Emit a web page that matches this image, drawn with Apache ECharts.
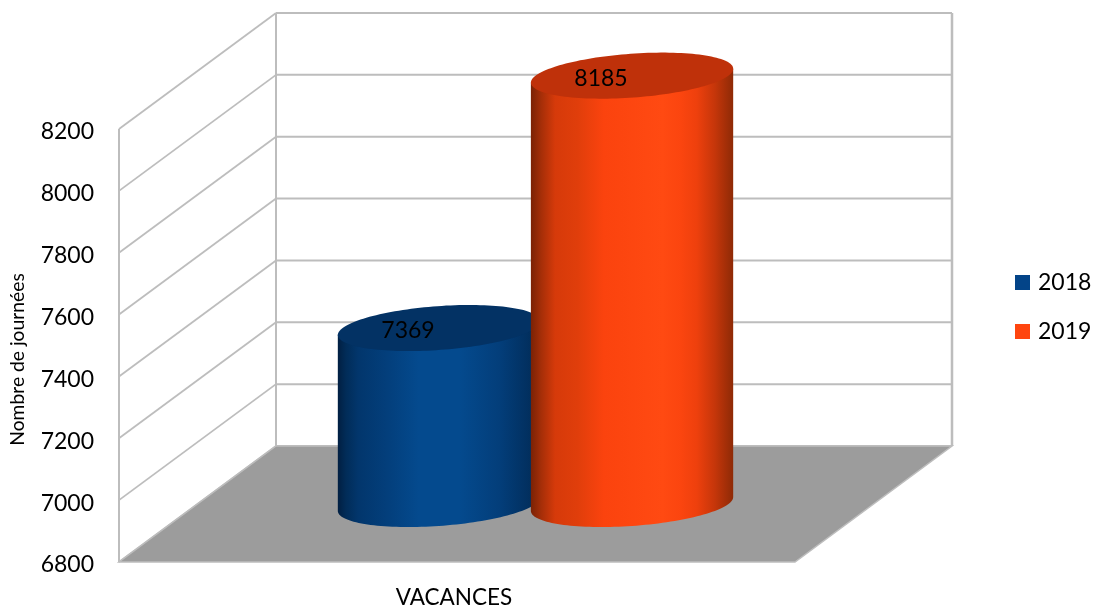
<!DOCTYPE html>
<html><head><meta charset="utf-8">
<style>html,body{margin:0;padding:0;background:#fff}#c{width:1094px;height:605px}</style>
<script src="https://cdn.jsdelivr.net/npm/echarts@6/dist/echarts.min.js"></script>
</head><body><div id="c"></div>
<script>
const categories = ['VACANCES'];
const seriesNames = ['2018', '2019'];
const values2018 = [7369];
const values2019 = [8185];
const yTicks = [6800, 7000, 7200, 7400, 7600, 7800, 8000, 8200];

const FONT = 'Lato';
const DEPTH_X = 157, DEPTH_Y = -116;      // oblique depth of the 3D box, px
const GRID = {left: 119, top: 129, width: 676, height: 433};
const LINE = '#bdbdbd', FLOOR = '#9c9c9c';
const BAR_OFFSET = 0.1428, BAR_RADIUS = 0.15, ELL_B = 21.9, TILT = 4.13 * Math.PI / 180;

const chart = echarts.init(document.getElementById('c'));

function renderWalls(params, api) {
  const v = api.value(1);
  const p = api.coord([0, v]);
  const band = api.size([1, 0])[0];
  const x0 = p[0] - band / 2, y = p[1];
  const children = [];
  const line = (x1, y1, x2, y2, w) => ({type: 'line', shape: {x1, y1, x2, y2},
    style: {stroke: LINE, lineWidth: w, fill: null}, silent: true});
  children.push(line(x0, y, x0 + DEPTH_X, y + DEPTH_Y, 1.8));
  children.push(line(x0 + DEPTH_X, y + DEPTH_Y, x0 + band + DEPTH_X, y + DEPTH_Y, 2));
  if (params.dataIndex === 0) {
    const top = api.coord([0, yTicks[yTicks.length - 1]])[1];
    children.push(line(x0, y, x0, top, 2));
    children.push(line(x0 + DEPTH_X, y + DEPTH_Y, x0 + DEPTH_X, top + DEPTH_Y, 2));
    children.push(line(x0 + band + DEPTH_X, y + DEPTH_Y, x0 + band + DEPTH_X, top + DEPTH_Y, 2.5));
    children.push({type: 'polygon', shape: {points: [
      [x0, y], [x0 + band, y], [x0 + band + DEPTH_X, y + DEPTH_Y], [x0 + DEPTH_X, y + DEPTH_Y]
    ]}, style: {fill: FLOOR, stroke: '#bdbdbd', lineWidth: 1.5}, silent: true});
  }
  return {type: 'group', children};
}

function ellipsePoint(cx, cy, a, b, t) {
  const c = Math.cos(TILT), s = Math.sin(TILT);
  return [cx + a * Math.cos(t) * c + b * Math.sin(t) * s,
          cy - a * Math.cos(t) * s + b * Math.sin(t) * c];
}

function makeCylinder(sign, stops, topColor) {
  return function (params, api) {
    const cat = api.value(0), v = api.value(1);
    const band = api.size([1, 0])[0];
    const base = api.coord([cat, yTicks[0]]);
    const head = api.coord([cat, v]);
    const cx = base[0] + DEPTH_X / 2 + sign * BAR_OFFSET * band;
    const a = BAR_RADIUS * band;
    const yTop = head[1] + DEPTH_Y / 2, yBot = base[1] + DEPTH_Y / 2;
    const t0 = Math.atan2(ELL_B * Math.sin(TILT), a * Math.cos(TILT));
    const N = 72;
    const side = [ellipsePoint(cx, yTop, a, ELL_B, t0 + Math.PI), ellipsePoint(cx, yTop, a, ELL_B, t0)];
    for (let i = 0; i <= N; i++) side.push(ellipsePoint(cx, yBot, a, ELL_B, t0 + Math.PI * i / N));
    const cap = [];
    for (let i = 0; i < N * 2; i++) cap.push(ellipsePoint(cx, yTop, a, ELL_B, Math.PI * i / N));
    return {type: 'group', children: [
      {type: 'polygon', shape: {points: side}, style: {
        fill: {type: 'linear', x: 0, y: 0, x2: 1, y2: 0, colorStops: stops}}},
      {type: 'polygon', shape: {points: cap}, style: {fill: topColor}},
      {type: 'text', style: {text: String(v), x: cx - 31, y: yTop + 3, align: 'center', verticalAlign: 'middle',
        fill: '#000', font: '23px ' + FONT}}
    ]};
  };
}

const blueStops = [
  {offset: 0, color: '#011f42'}, {offset: 0.04, color: '#012c58'}, {offset: 0.1, color: '#02366c'},
  {offset: 0.25, color: '#033f7c'}, {offset: 0.4, color: '#044a8e'}, {offset: 0.6, color: '#044a8e'},
  {offset: 0.8, color: '#033e7a'}, {offset: 0.92, color: '#023264'}, {offset: 1, color: '#012a54'}
];
const orangeStops = [
  {offset: 0, color: '#7a2205'}, {offset: 0.05, color: '#a42e08'}, {offset: 0.12, color: '#d63a0a'},
  {offset: 0.23, color: '#e03e0b'}, {offset: 0.36, color: '#fb430e'}, {offset: 0.65, color: '#ff4a12'},
  {offset: 0.74, color: '#fb450f'}, {offset: 0.82, color: '#ee400d'}, {offset: 0.91, color: '#c5360a'},
  {offset: 1, color: '#8e2a06'}
];

chart.setOption({
  animation: false,
  backgroundColor: '#fff',
  textStyle: {fontFamily: FONT},
  grid: {left: GRID.left, top: GRID.top, width: GRID.width, height: GRID.height, containLabel: false, outerBoundsMode: 'none'},
  legend: {
    data: seriesNames, orient: 'vertical', left: 1010, top: 266, itemWidth: 15, itemHeight: 15, itemGap: 26,
    icon: 'rect', textStyle: {fontSize: 23, color: '#000', fontFamily: FONT, padding: [0, 0, 0, 3]},
    selectedMode: false
  },
  xAxis: {type: 'category', data: categories,
    axisLine: {show: false}, axisTick: {show: false}, splitLine: {show: false},
    axisLabel: {color: '#000', fontSize: 22.5, fontFamily: FONT, margin: 24, padding: [0, 6, 0, 0]}},
  yAxis: {type: 'value', min: yTicks[0], max: yTicks[yTicks.length - 1], interval: 200,
    axisLine: {show: false}, axisTick: {show: false}, splitLine: {show: false},
    axisLabel: {color: '#000', fontSize: 23, fontFamily: FONT, margin: 25, verticalAlign: 'top', lineHeight: 6,
      formatter: v => String(v)},
    name: 'Nombre de journées', nameLocation: 'middle', nameGap: 92, nameRotate: 90,
    nameTextStyle: {color: '#000', fontSize: 19.3, fontFamily: FONT, padding: [0, 28, 0, 0]}},
  series: [
    {type: 'custom', name: 'walls', renderItem: renderWalls, silent: true, clip: false, z: 1,
     data: yTicks.map(v => [0, v]), encode: {x: 0, y: 1}},
    {type: 'custom', name: seriesNames[0], renderItem: makeCylinder(-1, blueStops, '#033264'), clip: false, z: 2,
     itemStyle: {color: '#034488'}, data: values2018.map((v, i) => [i, v]), encode: {x: 0, y: 1}},
    {type: 'custom', name: seriesNames[1], renderItem: makeCylinder(1, orangeStops, '#bf310a'), clip: false, z: 3,
     itemStyle: {color: '#ff450f'}, data: values2019.map((v, i) => [i, v]), encode: {x: 0, y: 1}}
  ]
});
</script></body></html>
